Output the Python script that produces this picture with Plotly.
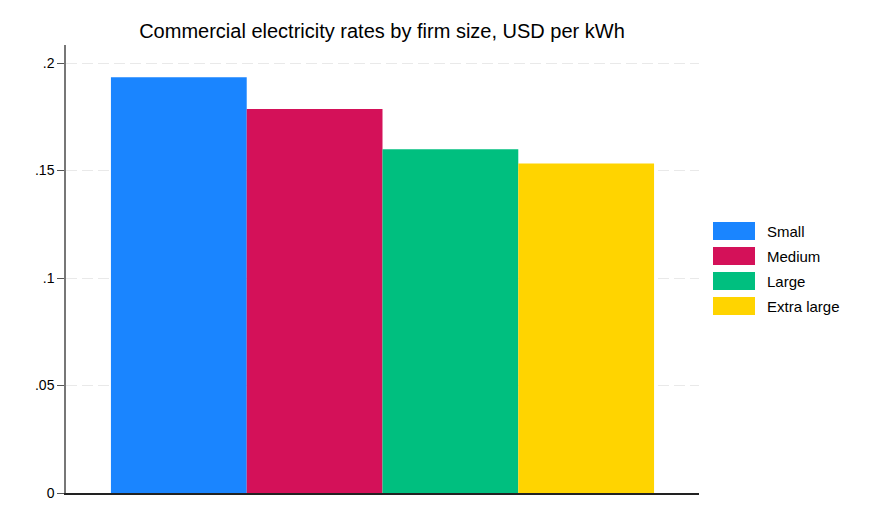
import plotly.graph_objects as go

# ---- data ----
categories = ["Small", "Medium", "Large", "Extra large"]
rates = [0.1934, 0.1786, 0.1599, 0.1533]
colors = ["#1a85ff", "#d41159", "#00bf7f", "#ffd400"]
tick_vals = [0, 0.05, 0.1, 0.15, 0.2]
tick_text = ["0", ".05", ".1", ".15", ".2"]
title_text = "Commercial electricity rates by firm size, USD per kWh"

# page body has an 8px default margin -> compensate
OFF = 8
W, H = 871 - OFF, 523 - OFF
PLOT_L, PLOT_R, PLOT_T, PLOT_B = 66, 699, 45, 493   # target pixel coords
ML = PLOT_L - OFF
MT = PLOT_T - OFF
MR = W - (PLOT_R - OFF)
MB = H - (PLOT_B - OFF)
PW = PLOT_R - PLOT_L
PH = PLOT_B - PLOT_T

fig = go.Figure()
for name, val, col in zip(categories, rates, colors):
    fig.add_trace(go.Bar(
        x=[""], y=[val], name=name, marker=dict(color=col, line=dict(width=0)),
        showlegend=False, hovertemplate=name + ": %{y:.4f}<extra></extra>",
    ))

# custom legend (wide swatches like the original)
def px_x(px):
    return (px - PLOT_L) / PW

def px_y(py):
    return (PLOT_B - py) / PH

shapes = []
annotations = []
for i, (name, col) in enumerate(zip(categories, colors)):
    top = 222 + 25 * i
    bot = top + 18
    shapes.append(dict(type="rect", xref="paper", yref="paper",
                       x0=px_x(713), x1=px_x(755), y0=px_y(bot), y1=px_y(top),
                       fillcolor=col, line=dict(width=0)))
    annotations.append(dict(xref="paper", yref="paper", x=px_x(765), y=px_y((top + bot) / 2),
                            text=name, showarrow=False, xanchor="left", yanchor="middle",
                            font=dict(size=15, color="#000000")))

fig.update_layout(
    width=W, height=H,
    margin=dict(l=ML, r=MR, t=MT, b=MB),
    paper_bgcolor="white", plot_bgcolor="white",
    font=dict(family="Liberation Sans, Arial, sans-serif", size=14, color="#000000"),
    title=dict(text=title_text, x=(382 - OFF) / W, xanchor="center",
               y=1 - (31 - OFF) / H, yanchor="middle", font=dict(size=20, color="#000000")),
    barmode="group", bargap=0.142, bargroupgap=0,
    shapes=shapes, annotations=annotations,
    xaxis=dict(range=[-0.5, 0.5], showticklabels=False, ticks="", showgrid=False,
               showline=True, linecolor="#222222", linewidth=1.5, zeroline=False, fixedrange=True),
    yaxis=dict(range=[0, 0.2084], tickvals=tick_vals, ticktext=tick_text,
               ticks="outside", ticklen=7, tickcolor="#555555", tickwidth=1,
               showline=True, linecolor="#777777", linewidth=1.5,
               showgrid=True, gridcolor="#e9e9e9", griddash="11px,5px", gridwidth=1,
               zeroline=False, tickfont=dict(size=14, color="#000000")),
)

fig.write_html("out.html")
